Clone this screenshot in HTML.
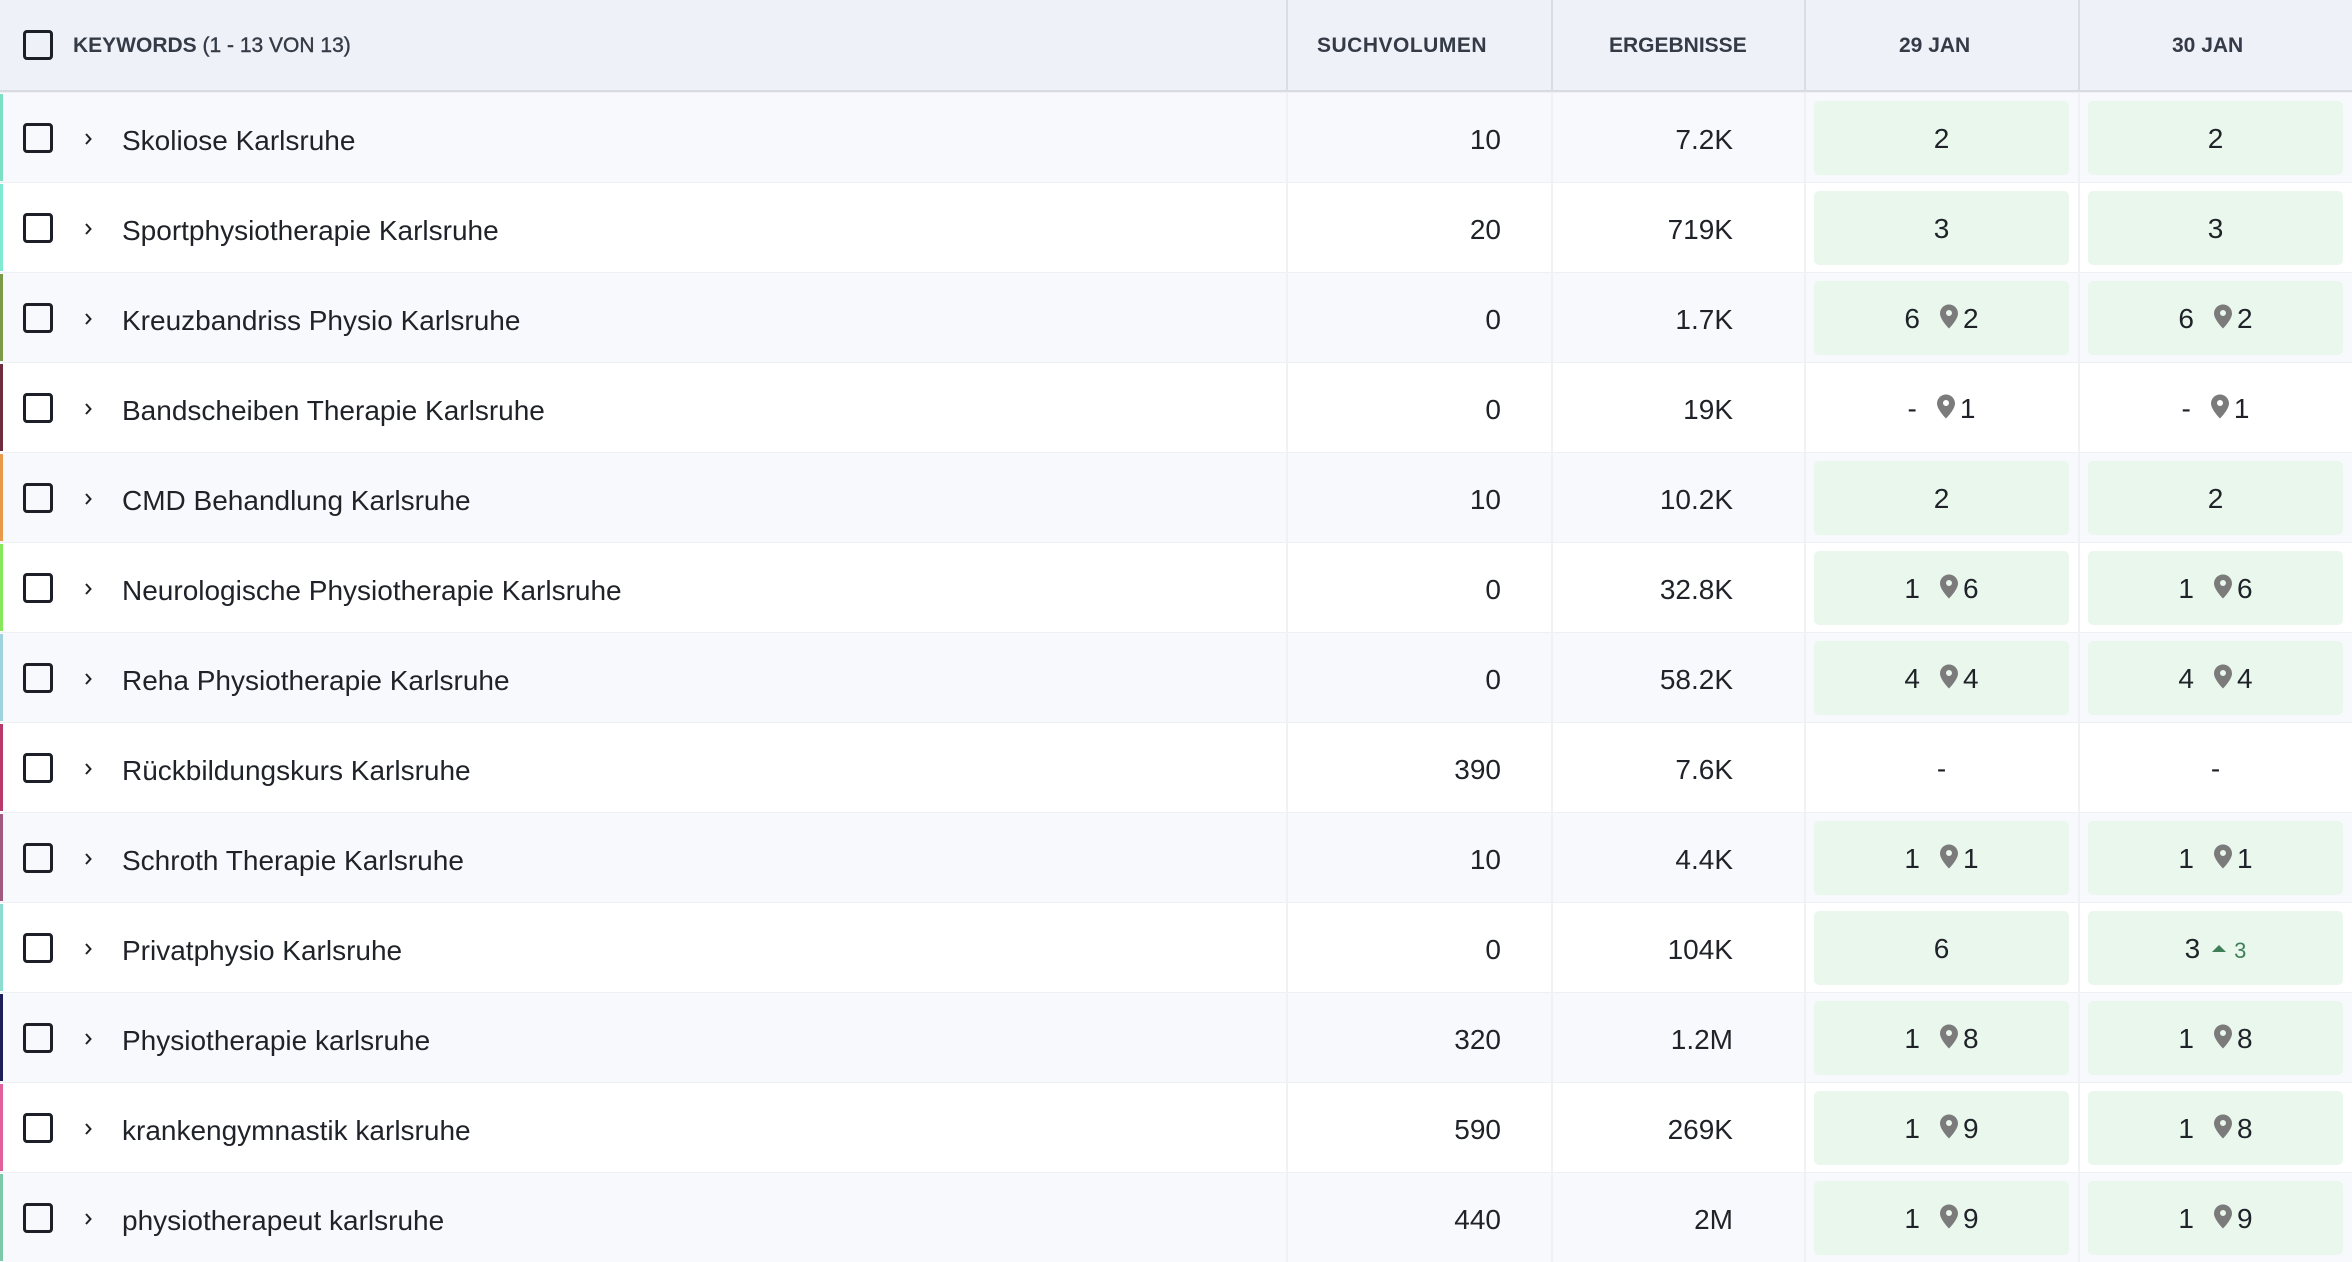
<!DOCTYPE html>
<html><head><meta charset="utf-8">
<style>
*{margin:0;padding:0}
html,body{width:2352px;height:1262px;overflow:hidden;background:#fff;font-family:"Liberation Sans",sans-serif;color:#1f2228}
.hdr{position:absolute;left:0;top:0;width:2352px;height:90px;background:#eff1f8;border-bottom:2px solid #d8dbe3}
.hv{position:absolute;top:0;height:90px;width:2px;background:#dadde5}
.ht{position:absolute;top:34px;line-height:24px;font-size:21px;color:#343b46;white-space:nowrap;font-weight:bold}
.ht span{font-weight:normal;-webkit-text-stroke:0.4px #343b46}
.row{position:absolute;left:0;width:2352px;height:90px;background:#fff;border-top:1px solid #eef0f4;box-sizing:border-box}
.g{background:#f8f9fc}
.bar{position:absolute;left:0;top:1px;bottom:1px;width:3px}
.cb{position:absolute;left:23px;top:30px;width:30px;height:30px;border:3.5px solid #1c1f27;border-radius:4px;box-sizing:border-box}
.hdr .cb{top:30px}
.chev{position:absolute;left:84px;top:40px}
.kw{position:absolute;left:122px;top:32px;line-height:32px;font-size:28px;white-space:nowrap}
.num{position:absolute;top:31px;line-height:32px;font-size:28px;text-align:right;white-space:nowrap}
.sv{left:1287px;width:214px}
.er{left:1552px;width:181px}
.c{position:absolute;top:8px;width:255px;height:74px;border-radius:5px}
.c1{left:1814px}
.c2{left:2088px}
.box{background:#e9f7ed}
.in{position:absolute;left:0;right:0;top:22px;line-height:32px;font-size:28px;text-align:center;white-space:nowrap}
.pin{vertical-align:-1px;margin-left:20px;margin-right:5px}
.up{font-size:22px;color:#3f7f57;margin-left:12px}
.tri{display:inline-block;width:0;height:0;border-left:7px solid transparent;border-right:7px solid transparent;border-bottom:7px solid #3f7f57;vertical-align:6px;margin-right:8px}
.vl{position:absolute;top:92px;height:1170px;width:2px;background:#f0f1f5}
</style></head><body>
<svg width="0" height="0" style="position:absolute"><defs><symbol id="p" viewBox="0 0 18 24"><path fill-rule="evenodd" fill="#7b7b7b" d="M9 0C4 0 0 4 0 9C0 15 9 24 9 24C9 24 18 15 18 9C18 4 14 0 9 0ZM9 5.5A3 3 0 1 0 9 11.5A3 3 0 1 0 9 5.5Z"/></symbol><symbol id="ch" viewBox="0 0 8 12"><polyline points="2,1 6.5,6 2,11" fill="none" stroke="#222" stroke-width="2"/></symbol></defs></svg>

<div class="hdr">
<div class="cb"></div>
<div class="ht" style="left:73px">KEYWORDS <span>(1 - 13 VON 13)</span></div>
<div class="hv" style="left:1286px"></div>
<div class="hv" style="left:1551px"></div>
<div class="hv" style="left:1804px"></div>
<div class="hv" style="left:2078px"></div>
<div class="ht" style="left:1317px;letter-spacing:0.5px">SUCHVOLUMEN</div>
<div class="ht" style="left:1609px">ERGEBNISSE</div>
<div class="ht" style="left:1899px">29 JAN</div>
<div class="ht" style="left:2172px">30 JAN</div>
</div>

<div class="row g" style="top:92px"><div class="bar" style="background:#7ddfc3"></div><div class="cb"></div><svg class="chev" width="8" height="12"><use href="#ch"/></svg><div class="kw">Skoliose Karlsruhe</div><div class="num sv">10</div><div class="num er">7.2K</div><div class="c c1 box"><div class="in">2</div></div><div class="c c2 box"><div class="in">2</div></div></div>

<div class="row" style="top:182px"><div class="bar" style="background:#80e9d1"></div><div class="cb"></div><svg class="chev" width="8" height="12"><use href="#ch"/></svg><div class="kw">Sportphysiotherapie Karlsruhe</div><div class="num sv">20</div><div class="num er">719K</div><div class="c c1 box"><div class="in">3</div></div><div class="c c2 box"><div class="in">3</div></div></div>

<div class="row g" style="top:272px"><div class="bar" style="background:#7a9a48"></div><div class="cb"></div><svg class="chev" width="8" height="12"><use href="#ch"/></svg><div class="kw">Kreuzbandriss Physio Karlsruhe</div><div class="num sv">0</div><div class="num er">1.7K</div><div class="c c1 box"><div class="in">6<svg class="pin" width="18" height="25"><use href="#p"/></svg>2</div></div><div class="c c2 box"><div class="in">6<svg class="pin" width="18" height="25"><use href="#p"/></svg>2</div></div></div>

<div class="row" style="top:362px"><div class="bar" style="background:#6e2c3e"></div><div class="cb"></div><svg class="chev" width="8" height="12"><use href="#ch"/></svg><div class="kw">Bandscheiben Therapie Karlsruhe</div><div class="num sv">0</div><div class="num er">19K</div><div class="c c1"><div class="in">-<svg class="pin" width="18" height="25"><use href="#p"/></svg>1</div></div><div class="c c2"><div class="in">-<svg class="pin" width="18" height="25"><use href="#p"/></svg>1</div></div></div>

<div class="row g" style="top:452px"><div class="bar" style="background:#e89a4a"></div><div class="cb"></div><svg class="chev" width="8" height="12"><use href="#ch"/></svg><div class="kw">CMD Behandlung Karlsruhe</div><div class="num sv">10</div><div class="num er">10.2K</div><div class="c c1 box"><div class="in">2</div></div><div class="c c2 box"><div class="in">2</div></div></div>

<div class="row" style="top:542px"><div class="bar" style="background:#86e85a"></div><div class="cb"></div><svg class="chev" width="8" height="12"><use href="#ch"/></svg><div class="kw">Neurologische Physiotherapie Karlsruhe</div><div class="num sv">0</div><div class="num er">32.8K</div><div class="c c1 box"><div class="in">1<svg class="pin" width="18" height="25"><use href="#p"/></svg>6</div></div><div class="c c2 box"><div class="in">1<svg class="pin" width="18" height="25"><use href="#p"/></svg>6</div></div></div>

<div class="row g" style="top:632px"><div class="bar" style="background:#a0d2dc"></div><div class="cb"></div><svg class="chev" width="8" height="12"><use href="#ch"/></svg><div class="kw">Reha Physiotherapie Karlsruhe</div><div class="num sv">0</div><div class="num er">58.2K</div><div class="c c1 box"><div class="in">4<svg class="pin" width="18" height="25"><use href="#p"/></svg>4</div></div><div class="c c2 box"><div class="in">4<svg class="pin" width="18" height="25"><use href="#p"/></svg>4</div></div></div>

<div class="row" style="top:722px"><div class="bar" style="background:#b83a6a"></div><div class="cb"></div><svg class="chev" width="8" height="12"><use href="#ch"/></svg><div class="kw">Rückbildungskurs Karlsruhe</div><div class="num sv">390</div><div class="num er">7.6K</div><div class="c c1"><div class="in">-</div></div><div class="c c2"><div class="in">-</div></div></div>

<div class="row g" style="top:812px"><div class="bar" style="background:#a05a80"></div><div class="cb"></div><svg class="chev" width="8" height="12"><use href="#ch"/></svg><div class="kw">Schroth Therapie Karlsruhe</div><div class="num sv">10</div><div class="num er">4.4K</div><div class="c c1 box"><div class="in">1<svg class="pin" width="18" height="25"><use href="#p"/></svg>1</div></div><div class="c c2 box"><div class="in">1<svg class="pin" width="18" height="25"><use href="#p"/></svg>1</div></div></div>

<div class="row" style="top:902px"><div class="bar" style="background:#8cdcd0"></div><div class="cb"></div><svg class="chev" width="8" height="12"><use href="#ch"/></svg><div class="kw">Privatphysio Karlsruhe</div><div class="num sv">0</div><div class="num er">104K</div><div class="c c1 box"><div class="in">6</div></div><div class="c c2 box"><div class="in">3<span class="up"><span class="tri"></span>3</span></div></div></div>

<div class="row g" style="top:992px"><div class="bar" style="background:#1e1e5a"></div><div class="cb"></div><svg class="chev" width="8" height="12"><use href="#ch"/></svg><div class="kw">Physiotherapie karlsruhe</div><div class="num sv">320</div><div class="num er">1.2M</div><div class="c c1 box"><div class="in">1<svg class="pin" width="18" height="25"><use href="#p"/></svg>8</div></div><div class="c c2 box"><div class="in">1<svg class="pin" width="18" height="25"><use href="#p"/></svg>8</div></div></div>

<div class="row" style="top:1082px"><div class="bar" style="background:#e0609a"></div><div class="cb"></div><svg class="chev" width="8" height="12"><use href="#ch"/></svg><div class="kw">krankengymnastik karlsruhe</div><div class="num sv">590</div><div class="num er">269K</div><div class="c c1 box"><div class="in">1<svg class="pin" width="18" height="25"><use href="#p"/></svg>9</div></div><div class="c c2 box"><div class="in">1<svg class="pin" width="18" height="25"><use href="#p"/></svg>8</div></div></div>

<div class="row g" style="top:1172px"><div class="bar" style="background:#7cc8a8"></div><div class="cb"></div><svg class="chev" width="8" height="12"><use href="#ch"/></svg><div class="kw">physiotherapeut karlsruhe</div><div class="num sv">440</div><div class="num er">2M</div><div class="c c1 box"><div class="in">1<svg class="pin" width="18" height="25"><use href="#p"/></svg>9</div></div><div class="c c2 box"><div class="in">1<svg class="pin" width="18" height="25"><use href="#p"/></svg>9</div></div></div>

<div class="vl" style="left:1286px"></div>
<div class="vl" style="left:1551px"></div>
<div class="vl" style="left:1804px"></div>
<div class="vl" style="left:2078px"></div>
</body></html>
